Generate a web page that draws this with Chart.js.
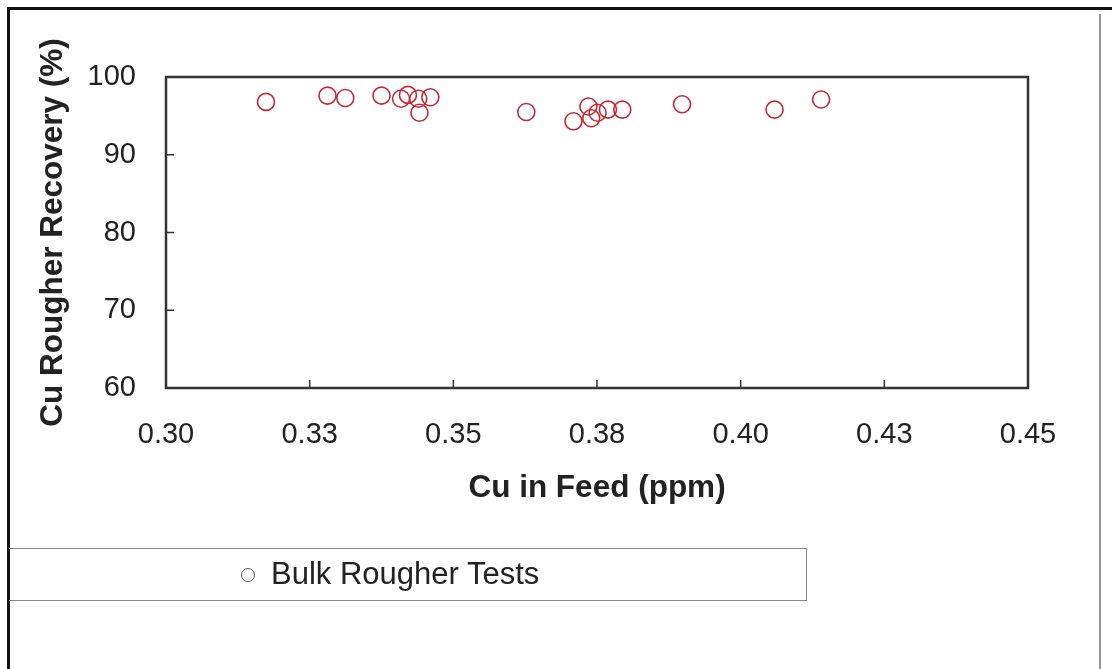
<!DOCTYPE html>
<html>
<head>
<meta charset="utf-8">
<title>Cu Rougher Recovery vs Cu in Feed</title>
<script src="https://cdn.jsdelivr.net/npm/chart.js@4"></script>
<style>
  html, body { margin: 0; padding: 0; background: #fff; }
  #wrap { position: relative; width: 1112px; height: 669px; overflow: hidden; }
  #chartBox { position: absolute; left: 0; top: 0; width: 1112px; height: 669px; }
  .frameTop { position: absolute; left: 8px; top: 7px; width: 1104px; height: 3px; background: #111; }
  .frameLeft { position: absolute; left: 7px; top: 7px; width: 3px; height: 662px; background: #111; }
  .frameRight { position: absolute; left: 1099px; top: 14px; width: 2px; height: 655px; background: #999; }
  #legendBox {
    position: absolute; left: 9px; top: 548px; width: 798px; height: 53px;
    border: 1px solid #888; border-left: none; box-sizing: border-box;
    font-family: "Liberation Sans", Arial, sans-serif; font-size: 31px; color: #222;
  }
  #legendBox .marker {
    position: absolute; left: 232px; top: 19px; width: 12px; height: 12px;
    border: 1.5px solid #555; border-radius: 50%;
  }
  #legendBox .label { position: absolute; left: 262px; top: 7px; white-space: nowrap; }
</style>
</head>
<body>
<div id="wrap">
  <div id="chartBox"><canvas id="recoveryChart"></canvas></div>
  <div class="frameTop"></div>
  <div class="frameLeft"></div>
  <div class="frameRight"></div>
  <div id="legendBox"><span class="marker"></span><span class="label">Bulk Rougher Tests</span></div>
</div>
<script>
// Cu in feed (ppm) and rougher recovery (%)
const cuFeed = [0.3174, 0.3281, 0.3312, 0.3375, 0.3409, 0.3421, 0.3439, 0.3441, 0.3460,
                0.3627, 0.3709, 0.3735, 0.3740, 0.3751, 0.3769, 0.3794, 0.3898, 0.4059, 0.4140];
const recovery = [96.8, 97.6, 97.3, 97.6, 97.2, 97.7, 97.2, 95.4, 97.4,
                  95.5, 94.3, 96.2, 94.7, 95.4, 95.8, 95.8, 96.5, 95.8, 97.1];
const xTickLabels = ['0.30', '0.33', '0.35', '0.38', '0.40', '0.43', '0.45'];
const yTickLabels = ['60', '70', '80', '90', '100'];

Chart.defaults.font.family = '"Liberation Sans", Arial, sans-serif';
Chart.defaults.color = '#222';

// plot box and the small inward tick marks
const frameAndTicks = {
  id: 'frameAndTicks',
  beforeDatasetsDraw(chart) {
    const ctx = chart.ctx;
    const a = chart.chartArea;
    const xs = chart.scales.x;
    const ys = chart.scales.y;
    ctx.save();
    ctx.strokeStyle = '#333';
    ctx.lineWidth = 1.5;
    ctx.beginPath();
    xs.ticks.forEach(t => {
      const px = xs.getPixelForValue(t.value);
      ctx.moveTo(px, a.bottom);
      ctx.lineTo(px, a.bottom - 8);
    });
    ys.ticks.forEach(t => {
      const py = ys.getPixelForValue(t.value);
      ctx.moveTo(a.left, py);
      ctx.lineTo(a.left + 8, py);
    });
    ctx.stroke();
    ctx.lineWidth = 2.5;
    ctx.strokeRect(a.left, a.top, a.right - a.left, a.bottom - a.top);
    ctx.restore();
  }
};

const points = cuFeed.map((x, i) => ({ x: x, y: recovery[i] }));

new Chart(document.getElementById('recoveryChart'), {
  type: 'scatter',
  data: {
    datasets: [{
      label: 'Bulk Rougher Tests',
      data: points,
      pointStyle: 'circle',
      pointRadius: 8.5,
      pointBorderWidth: 1.6,
      borderColor: '#c42a36',
      backgroundColor: 'rgba(255, 255, 255, 0)',
      showLine: false,
      clip: false
    }]
  },
  options: {
    responsive: true,
    maintainAspectRatio: false,
    animation: false,
    layout: {
      padding: { top: 77, right: 84, bottom: 151, left: 0 }
    },
    plugins: {
      legend: { display: false },
      tooltip: { enabled: false }
    },
    scales: {
      x: {
        type: 'linear',
        min: 0.30,
        max: 0.45,
        afterFit: function(scale) { scale.height = 130; },
        ticks: {
          stepSize: 0.025,
          padding: 30,
          font: { size: 29 },
          color: '#222',
          callback: function(value, index) { return xTickLabels[index]; }
        },
        grid: { display: false, drawTicks: false },
        border: { display: false },
        title: {
          display: true,
          text: 'Cu in Feed (ppm)',
          font: { size: 31.5, weight: 'bold' },
          color: '#222',
          padding: { top: 0, bottom: 11 }
        }
      },
      y: {
        min: 60,
        max: 100,
        afterFit: function(scale) { scale.width = 166; },
        ticks: {
          stepSize: 10,
          padding: 30,
          font: { size: 29 },
          color: '#222',
          callback: function(value, index) { return yTickLabels[index]; }
        },
        grid: { display: false, drawTicks: false },
        border: { display: false },
        title: {
          display: true,
          text: 'Cu Rougher Recovery (%)',
          font: { size: 31.5, weight: 'bold' },
          color: '#222',
          padding: { top: 34, bottom: 0 }
        }
      }
    }
  },
  plugins: [frameAndTicks]
});
</script>
</body>
</html>
